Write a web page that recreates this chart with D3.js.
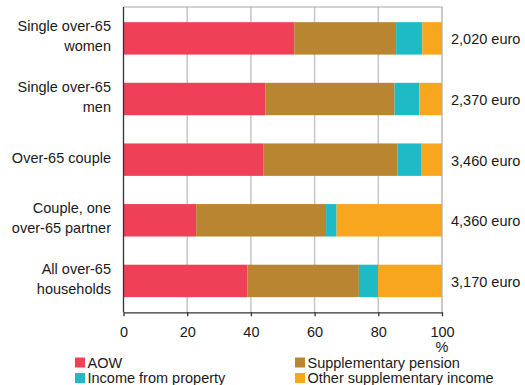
<!DOCTYPE html>
<html>
<head>
<meta charset="utf-8">
<script src="https://cdn.jsdelivr.net/npm/d3@7"></script>
<style>
  html, body { margin: 0; padding: 0; background: #fff; }
  svg { display: block; font-family: "Liberation Sans", Arial, sans-serif; }
</style>
</head>
<body>
<svg id="chart" width="525" height="385"></svg>
<script>
// Household groups (label lines) and their average income
const categories = [
  ["Single over-65", "women"],
  ["Single over-65", "men"],
  ["Over-65 couple"],
  ["Couple, one", "over-65 partner"],
  ["All over-65", "households"]
];
const incomeLabels = ["2,020 euro", "2,370 euro", "3,460 euro", "4,360 euro", "3,170 euro"];

// Share of income by source, percent
const seriesNames = ["AOW", "Supplementary pension", "Income from property", "Other supplementary income"];
const aow          = [53.6, 44.5, 44.0, 22.8, 38.9];
const supplPension = [32.0, 40.6, 42.0, 40.8, 35.0];
const property     = [ 8.2,  7.8,  7.4,  3.3,  6.0];
const otherSuppl   = [ 6.2,  7.1,  6.6, 33.1, 20.1];
const seriesColors = ["#F04058", "#B98530", "#1EBBC6", "#F8A61E"];

const xTicks = [0, 20, 40, 60, 80, 100];

const FS = 14.5;
const TEXT = "#1a1a1a";

const rows = categories.map((c, i) => ({
  key: i,
  AOW: aow[i],
  "Supplementary pension": supplPension[i],
  "Income from property": property[i],
  "Other supplementary income": otherSuppl[i]
}));

const svg = d3.select("#chart");
const margin = { left: 123.5, right: 83, top: 7, bottom: 72.7 };
const W = 525, H = 385;
const x0 = margin.left, x1 = W - margin.right;
const y0 = margin.top, y1 = H - margin.bottom;

const x = d3.scaleLinear().domain([0, 100]).range([x0, x1]);
const y = d3.scaleBand().domain(d3.range(categories.length)).range([y0, y1])
  .paddingInner(0.465).paddingOuter(0.25);
const color = d3.scaleOrdinal().domain(seriesNames).range(seriesColors);

// Gridlines
svg.append("g")
  .selectAll("line")
  .data(xTicks.filter(t => t > 0 && t < 100))
  .join("line")
  .attr("x1", d => x(d)).attr("x2", d => x(d))
  .attr("y1", y0).attr("y2", y1)
  .attr("stroke", "#c6c6c6").attr("stroke-width", 1.5);

// Frame top and right
svg.append("path")
  .attr("d", `M${x0},${y0}H${x1}V${y1}`)
  .attr("fill", "none").attr("stroke", "#a8a8a8").attr("stroke-width", 1.2);

// Stacked bars
const stack = d3.stack().keys(seriesNames)(rows);
svg.append("g")
  .selectAll("g")
  .data(stack)
  .join("g")
  .attr("fill", d => color(d.key))
  .selectAll("rect")
  .data(d => d)
  .join("rect")
  .attr("x", d => x(d[0]))
  .attr("width", d => x(d[1]) - x(d[0]))
  .attr("y", (d, i) => y(i))
  .attr("height", y.bandwidth());

// Left axis line
svg.append("line")
  .attr("x1", x0).attr("x2", x0).attr("y1", y0).attr("y2", y1)
  .attr("stroke", "#333").attr("stroke-width", 1.3);

// Bottom axis
const xAxis = svg.append("g")
  .attr("transform", `translate(0,${y1})`)
  .call(d3.axisBottom(x).tickValues(xTicks).tickSizeInner(4).tickSizeOuter(0).tickPadding(10));
xAxis.select(".domain").attr("stroke", "#333").attr("stroke-width", 1.3);
xAxis.selectAll(".tick line").attr("stroke", "#333").attr("stroke-width", 1.3);
xAxis.selectAll(".tick text")
  .attr("font-size", FS).attr("fill", TEXT)
  .attr("font-family", "'Liberation Sans', Arial, sans-serif");

svg.append("text")
  .attr("x", x(100)).attr("y", 352)
  .attr("text-anchor", "middle").attr("font-size", FS).attr("fill", TEXT)
  .text("%");

// Category labels
const catG = svg.append("g");
categories.forEach((lines, i) => {
  const cy = y(i) + y.bandwidth() / 2;
  const lh = 20;
  const t = catG.append("text")
    .attr("text-anchor", "end").attr("font-size", FS).attr("fill", TEXT);
  lines.forEach((ln, j) => {
    t.append("tspan")
      .attr("x", 111)
      .attr("y", cy - (lines.length - 1) * lh / 2 + j * lh - 2)
      .attr("dy", "0.35em")
      .text(ln);
  });
});

// Average income labels
svg.append("g")
  .selectAll("text")
  .data(incomeLabels)
  .join("text")
  .attr("x", 451)
  .attr("y", (d, i) => y(i) + y.bandwidth() / 2 + 1)
  .attr("dy", "0.35em")
  .attr("font-size", FS).attr("fill", TEXT)
  .text(d => d);

// Legend
const legendPos = [[75, 362.5], [295, 362.5], [75, 378], [295, 378]];
const leg = svg.append("g")
  .selectAll("g")
  .data(seriesNames)
  .join("g")
  .attr("transform", (d, i) => `translate(${legendPos[i][0]},${legendPos[i][1]})`);
leg.append("rect")
  .attr("x", 0).attr("y", -5).attr("width", 10).attr("height", 10)
  .attr("fill", d => color(d));
leg.append("text")
  .attr("x", 12.5).attr("y", 0).attr("dy", "0.35em")
  .attr("font-size", FS).attr("fill", TEXT)
  .text(d => d);
</script>
</body>
</html>
